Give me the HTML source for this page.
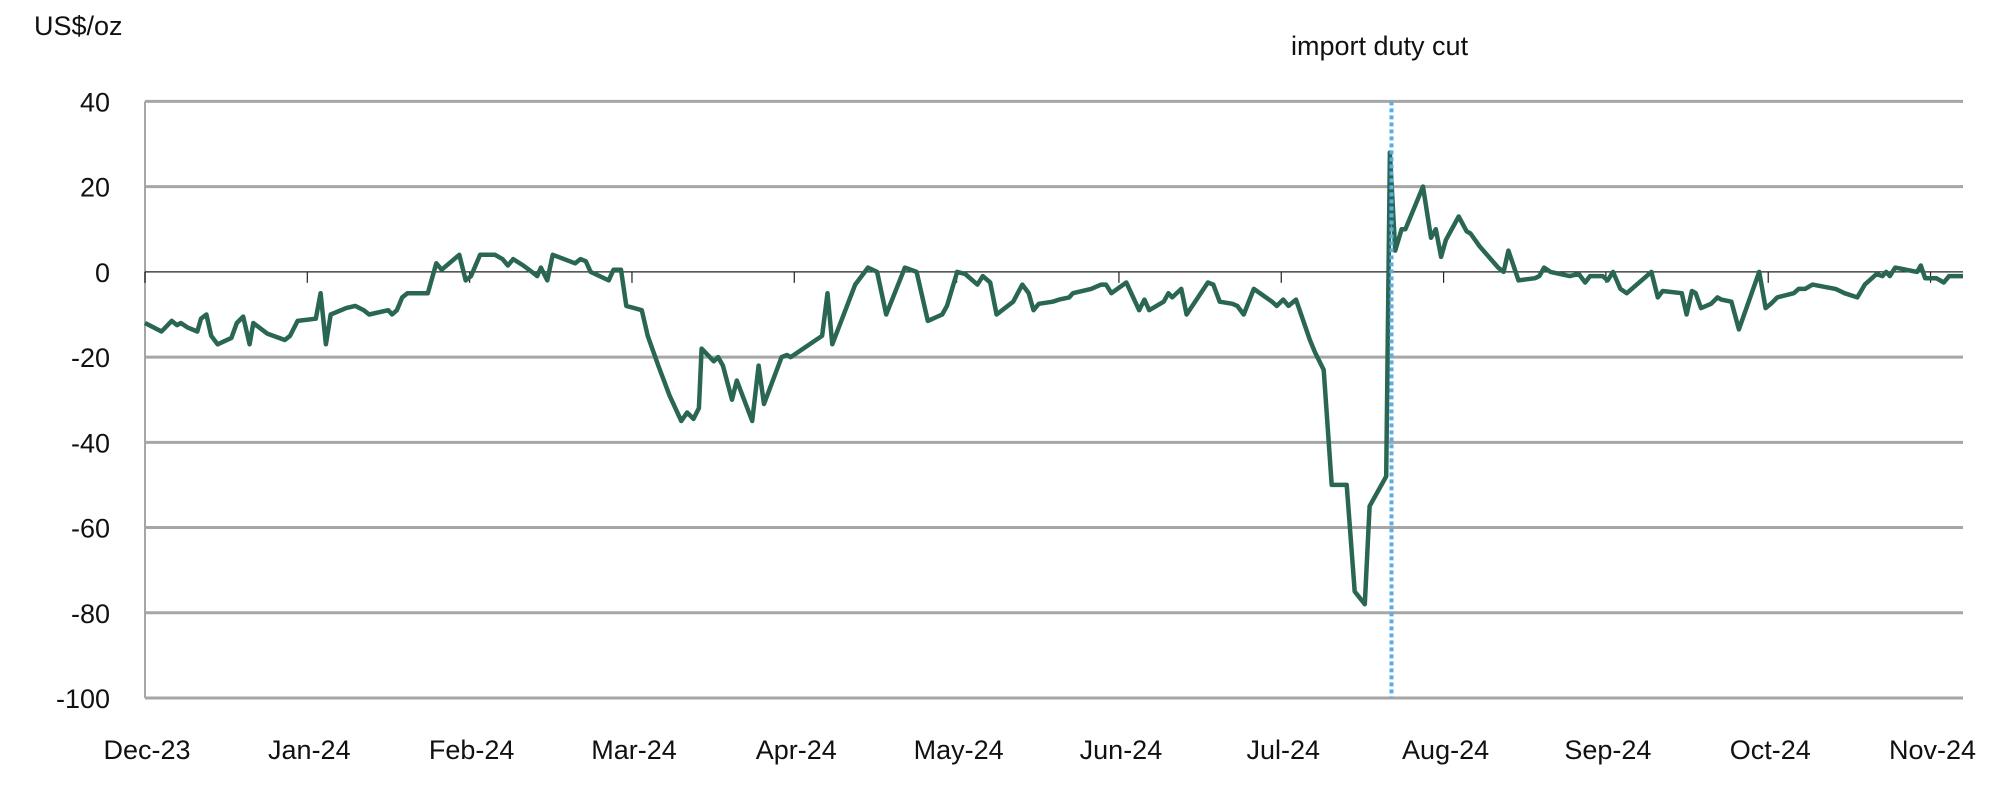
<!DOCTYPE html>
<html><head><meta charset="utf-8"><style>
body{margin:0;background:#fff;}
svg{display:block;font-family:"Liberation Sans",sans-serif;}
</style></head><body>
<svg id="chart" width="1994" height="792" viewBox="0 0 1994 792" xmlns="http://www.w3.org/2000/svg">
<text x="34" y="35" font-size="27" fill="#111">US$/oz</text>
<text x="1291" y="55" font-size="27" fill="#111">import duty cut</text>
<g id="grid"></g><g id="xaxis"></g><g id="series"></g><g id="event"></g>
</svg>
<script>
const yTicks=[40,20,0,-20,-40,-60,-80,-100];
const monthLabels=["Dec-23","Jan-24","Feb-24","Mar-24","Apr-24","May-24","Jun-24","Jul-24","Aug-24","Sep-24","Oct-24","Nov-24"];
const days=[0,3.1,5,6,6.7,7.9,9.8,10.5,11.5,12.4,13.6,16.2,17.2,18.4,19.6,20.3,22.9,26.2,27.2,28.6,32,32.9,33.9,34.8,37.7,39.4,41,42,45.6,46.3,47.2,48.2,49.2,53,54.6,55.6,58.9,60.1,61.1,62.8,65.6,67,68,69,70.9,72.5,73.5,74.2,75.4,76.4,80.6,81.6,82.6,83.5,86.9,87.8,89.2,90.2,93.1,94.2,96.2,98.3,100.5,101.6,102.8,103.8,104.3,106.6,107.4,108.3,110,110.9,113.8,115,116,119.3,120.3,121,126.9,127.9,128.8,133.1,135.5,137.2,138.9,142.4,144.6,146.7,149.4,150.3,152.2,153.7,156,157,158.4,159.6,162.7,164.4,165.6,166.5,167.5,170.1,171.3,173.2,173.9,177.3,179.2,180.1,181.1,183.9,186.3,187.3,188.2,190.9,191.8,192.5,194.2,195.2,199.2,200.2,201.4,203.8,204.7,205.9,207.8,211.2,212.1,213.3,214.3,215.7,218.3,219.3,220.9,222.4,225.2,226.7,228.6,229.5,232.6,233.3,234.3,235.5,236.2,239.5,241,241.9,242.9,243.8,246.2,247.7,248.4,250.1,253.6,254.6,255.5,257.4,260.5,261.3,262.2,263.4,267,268.7,269.9,270.8,273.2,274.1,275.1,276.5,277.7,282.3,283.5,284.4,288,288.9,289.9,290.6,291.6,293.5,294.7,295.4,297.3,298.7,302.5,303.7,304.7,305.9,309,309.9,311.1,312.5,314.7,316.8,318.5,320.9,322.3,324.5,325.6,326.3,327,328,332.1,332.8,333.6,335.7,337.1,338.1,340.7];
const values=[-12,-14,-11.5,-12.5,-12,-13,-14,-11,-10,-15,-17,-15.5,-12,-10.5,-17,-12,-14.5,-16,-15,-11.5,-11,-5,-17,-10,-8.5,-8,-9,-10,-9,-10,-9,-6,-5,-5,2,0.5,4,-2,-1,4,4,3,1.5,3,1.5,0,-1,1,-2,4,2,3,2.5,0,-2,0.5,0.5,-8,-9,-15,-22,-29,-35,-33,-34.5,-32,-18,-21,-20,-22,-30,-25.5,-35,-22,-31,-20,-19.5,-20,-15,-5,-17,-3,1,0,-10,1,0,-11.5,-10,-8,0,-0.5,-3,-1,-2.5,-10,-7,-3,-5,-9,-7.5,-7,-6.5,-6,-5,-4,-3,-3,-5,-2.5,-9,-6.5,-9,-7,-5,-6,-4,-10,-2.5,-3,-7,-7.5,-8,-10,-4,-7,-8,-6.5,-8,-6.5,-16,-19,-23,-50,-50,-75,-78,-55,-48,28,5,10,10,20,8,10,3.5,7.5,13,9.5,9,6,1,0,5,-2,-1.5,-1,1,0,-1,-0.5,-2.5,-1,-1,-2,0,-4,-5,0,-6,-4.5,-5,-10,-4.5,-5,-8.5,-7.5,-6,-6.5,-7,-13.5,0,-8.5,-7.5,-6,-5,-4,-4,-3,-3.5,-4,-5,-6,-3,-0.5,-1,0,-1,1,0,1.5,-1.5,-1.5,-2.5,-1,-1];
const eventDay=233.6;
const daysPerMonth=30.42;
const X0=145,X1=1963,DMAX=340.7,Y0=101.4,Y1=698;
const xs=d=>X0+d/DMAX*(X1-X0);
const ys=v=>Y0+(40-v)/140*(Y1-Y0);
const NS="http://www.w3.org/2000/svg";
function mk(tag,attrs,parent){const e=document.createElementNS(NS,tag);for(const k in attrs)e.setAttribute(k,attrs[k]);parent.appendChild(e);return e;}
const grid=document.getElementById('grid');
yTicks.forEach(v=>{
  if(v!==0){const l=mk('line',{x1:X0,x2:X1,y1:ys(v),y2:ys(v),stroke:'#a6a6a6','stroke-width':3},grid);
  
  }
  const t=mk('text',{x:110,y:ys(v)+10,'font-size':27,'text-anchor':'end',fill:'#111'},grid);
  t.textContent=v;
  
  
});
const ax=mk('line',{x1:X0,x2:X0,y1:Y0,y2:Y1,stroke:'#a6a6a6','stroke-width':2},grid);


const xa=document.getElementById('xaxis');
const zl=mk('line',{x1:X0,x2:X1,y1:ys(0),y2:ys(0),stroke:'#222','stroke-width':1.2},xa);


monthLabels.forEach((m,i)=>{
  const x=xs(i*daysPerMonth);
  const tk=mk('line',{x1:x,x2:x,y1:ys(0),y2:ys(0)+11,stroke:'#222','stroke-width':1.2},xa);
  
  
  const t=mk('text',{x:x+2,y:759,'font-size':27,'text-anchor':'middle',fill:'#111'},xa);
  t.textContent=m;
  
  
});
const ser=document.getElementById('series');
const p=mk('polyline',{points:days.map((d,i)=>xs(d).toFixed(1)+','+ys(values[i]).toFixed(1)).join(' '),fill:'none',stroke:'#2a6654','stroke-width':4.5,'stroke-linejoin':'round'},ser);


const ev=mk('line',{x1:xs(eventDay),x2:xs(eventDay),y1:Y0,y2:Y1,stroke:'#5aaee6','stroke-width':4,'stroke-dasharray':'4 3'},document.getElementById('event'));


</script>
</body></html>
